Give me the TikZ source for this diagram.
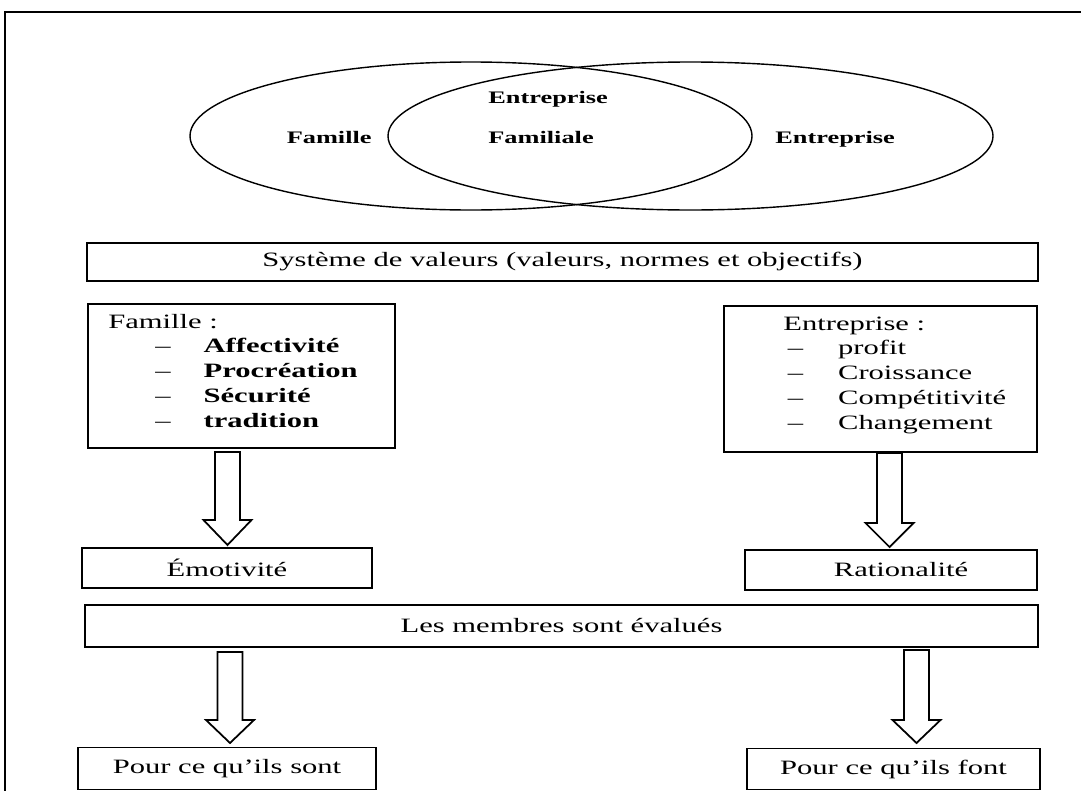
\documentclass[tikz,border=0pt]{standalone}
\usepackage{fontspec}
\setmainfont{Liberation Serif}[FakeStretch=1.5]
\usetikzlibrary{shapes.geometric,calc}
\newlength\pxu
\setlength\pxu{0.02cm}
\newcommand\blockarrow[3]{%
  \draw[arr] ($(#1)+(-12.5,0)$) -- ($(#1)+(12.5,0)$) -- ($(#2)+(12.5,-#3)$) -- ($(#2)+(24,-#3)$) -- (#2) -- ($(#2)+(-24,-#3)$) -- ($(#2)+(-12.5,-#3)$) -- cycle;}
\begin{document}
\begin{tikzpicture}[x=0.02cm,y=-0.02cm,
  box/.style={draw, line width=1.1pt, inner sep=0, font=\fontsize{11.6}{14.2}\selectfont},
  ell/.style={draw, ellipse, inner sep=0, line width=0.8pt},
  eltxt/.style={font=\bfseries\fontsize{10}{12}\selectfont, inner sep=0},
  listtxt/.style={anchor=base west, inner sep=0, font=\fontsize{11.6}{14.2}\selectfont},
  arr/.style={draw, fill=white, line width=1pt}]
\useasboundingbox (0,0) rectangle (1081,791);
% frame
\draw[line width=1pt] (1081,12) -- (5,12) -- (5,791);
% ellipses
\node[ell, minimum width={562*0.02cm}, minimum height={148*0.02cm}] (efam) at (471,136) {};
\node[ell, minimum width={605*0.02cm}, minimum height={148*0.02cm}] (eent) at (690.5,136) {};
\node[eltxt, anchor=base east] (tfam) at (372,143) {Famille};
\node[eltxt, anchor=base west] (tent1) at (488,103) {Entreprise};
\node[eltxt, anchor=base west] (tfamil) at (488,143) {Familiale};
\node[eltxt, anchor=base west] (tent2) at (775,143) {Entreprise};
% boxes
\node[box, minimum width={951*0.02cm}, minimum height={38*0.02cm}] (sys) at (562.5,262) {Système de valeurs (valeurs, normes et objectifs)};
\node[box, minimum width={307*0.02cm}, minimum height={144*0.02cm}] (fam) at (241.5,376) {};
\node[box, minimum width={313*0.02cm}, minimum height={146*0.02cm}] (ent) at (880.5,379) {};
\node[listtxt] (famlist) at (108,328) {\begin{tabular}[t]{@{\hspace{47\pxu}}l@{\hspace{33\pxu}}l@{}}
\multicolumn{2}{@{}l@{}}{Famille :}\\
--&\textbf{Affectivité}\\
--&\textbf{Procréation}\\
--&\textbf{Sécurité}\\
--&\textbf{tradition}
\end{tabular}};
\node[listtxt] (entlist) at (783,330) {\begin{tabular}[t]{@{\hspace{4.5\pxu}}l@{\hspace{35\pxu}}l@{}}
\multicolumn{2}{@{}l@{}}{Entreprise :}\\
--&profit\\
--&Croissance\\
--&Compétitivité\\
--&Changement
\end{tabular}};
\node[box, minimum width={290*0.02cm}, minimum height={40*0.02cm}] (emo) at (227,568) {Émotivité\hspace{26\pxu}};
\node[box, minimum width={292*0.02cm}, minimum height={40*0.02cm}] (rat) at (891,570) {\hspace{20\pxu}Rationalité};
\node[box, minimum width={953*0.02cm}, minimum height={42*0.02cm}] (mem) at (561.5,626) {Les membres sont évalués\hspace{15\pxu}};
\node[box, minimum width={298*0.02cm}, minimum height={42*0.02cm}] (sont) at (227,768.5) {Pour ce qu'ils sont};
\node[box, minimum width={293*0.02cm}, minimum height={41*0.02cm}] (font) at (893.5,769) {Pour ce qu'ils font};
% block arrows
\coordinate (a1s) at (227.5,452); \coordinate (a1t) at (227.5,545);
\coordinate (a2s) at (889.5,453); \coordinate (a2t) at (889.5,547);
\coordinate (a3s) at (230,652);   \coordinate (a3t) at (230,743);
\coordinate (a4s) at (916.5,650); \coordinate (a4t) at (916.5,743);
\blockarrow{a1s}{a1t}{25}
\blockarrow{a2s}{a2t}{24}
\blockarrow{a3s}{a3t}{23}
\blockarrow{a4s}{a4t}{23}
\end{tikzpicture}
\end{document}
